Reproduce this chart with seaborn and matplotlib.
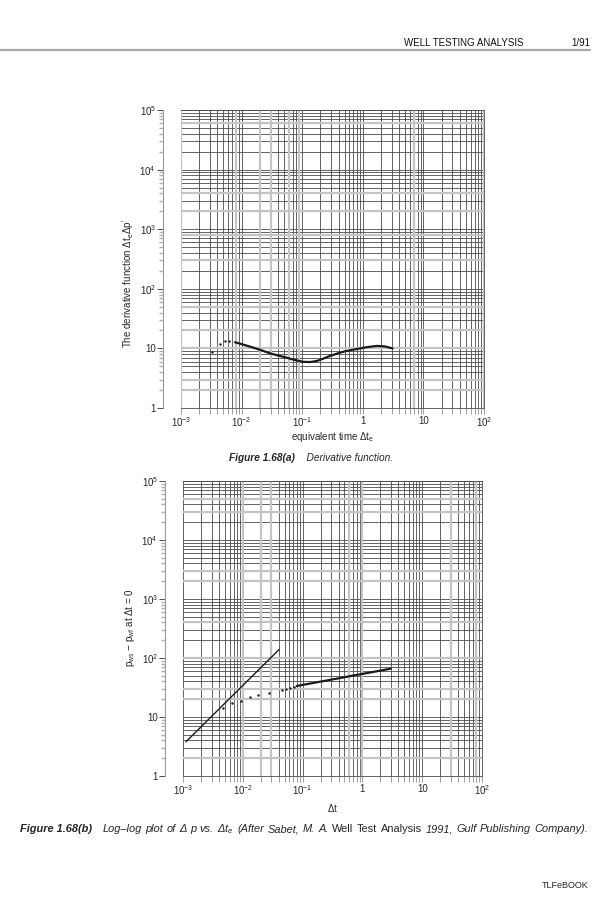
import numpy as np
import pandas as pd
import matplotlib
matplotlib.use("Agg")
import matplotlib.pyplot as plt
from matplotlib.lines import Line2D
from matplotlib.ticker import FixedLocator, LogLocator, NullFormatter
import seaborn as sns

# ---- data ----
# Figure 1.68(a): derivative function vs equivalent time
deriv_t_early = [3.3e-3, 4.4e-3, 5.3e-3, 6.3e-3]
deriv_early = [8.8, 11.9, 13.3, 13.5]
deriv_t = [7.8e-3, 1.0e-2, 1.56e-2, 2.2e-2, 2.9e-2, 4.0e-2, 5.5e-2, 7.5e-2, 0.104,
           0.135, 0.174, 0.22, 0.29, 0.38, 0.48, 0.65, 0.90, 1.25, 1.7, 2.3, 3.1]
deriv = [12.7, 11.8, 10.3, 9.2, 8.3, 7.6, 7.0, 6.4, 5.95,
         5.9, 6.15, 6.7, 7.5, 8.2, 8.8, 9.4, 10.0, 10.6, 11.0, 10.8, 10.0]

# Figure 1.68(b): pressure difference vs shut-in time
dp_t_early = [4.7e-3, 6.7e-3, 9.2e-3, 1.34e-2, 1.82e-2, 2.77e-2, 4.5e-2, 5.25e-2, 6.1e-2, 7.2e-2]
dp_early = [14.4, 17.1, 18.9, 21.6, 23.9, 25.8, 29.0, 30.2, 31.0, 31.9]
dp_t = [7.95e-2, 0.1, 0.2, 0.37, 0.7, 1.5, 2.97]
dp = [33.5, 35.0, 39.8, 44.6, 50.4, 57.9, 66.0]
unit_t = [1.12e-3, 4.07e-2]
unit_dp = [3.8, 140.0]

x_ticks = [1e-3, 1e-2, 1e-1, 1, 10, 100]
x_labels = ["$10^{-3}$", "$10^{-2}$", "$10^{-1}$", "1", "10", "$10^{2}$"]
y_ticks = [1, 10, 100, 1e3, 1e4, 1e5]
y_labels = ["1", "10", "$10^{2}$", "$10^{3}$", "$10^{4}$", "$10^{5}$"]

# light grey rules on the printed log paper
grey_v_a = [1e-3, 8e-3, 2e-2, 3e-2, 6e-2, 9e-2, 7, 100]
grey_h_a = [6e4, 4e3, 2e3, 8e2, 3e2, 5e1, 2e1, 10, 3, 2]
grey_v_b = [1e-2, 2e-2, 3e-2, 0.6, 1, 30, 80]
grey_h_b = [5e4, 3e4, 3e3, 2e3, 4e2, 1e2, 30, 20, 2]

sns.set_theme(style="white")
plt.rcParams["font.family"] = ["Liberation Sans", "DejaVu Sans"]
plt.rcParams["mathtext.default"] = "regular"

GRID = "#4a4a4a"
LGREY = "#c4c4c4"
FS = 7
CAP = 7.3
CAP_B = 7.9

fig = plt.figure(figsize=(6.04, 9.0), dpi=100)
W, H = 604.0, 900.0


def px_axes(l, t, r, b):
    return fig.add_axes([l / W, 1 - b / H, (r - l) / W, (b - t) / H])


def style_log_paper(ax, grey_v, grey_h):
    ax.spines["left"].set_position(("outward", 13))
    ax.set_xscale("log")
    ax.set_yscale("log")
    ax.set_xlim(1e-3, 1e2)
    ax.set_ylim(1, 1e5)
    ax.xaxis.set_major_locator(FixedLocator(x_ticks))
    ax.yaxis.set_major_locator(FixedLocator(y_ticks))
    ax.xaxis.set_minor_locator(LogLocator(base=10, subs=np.arange(2, 10), numticks=20))
    ax.yaxis.set_minor_locator(LogLocator(base=10, subs=np.arange(2, 10), numticks=20))
    ax.xaxis.set_minor_formatter(NullFormatter())
    ax.yaxis.set_minor_formatter(NullFormatter())
    ax.set_xticklabels(x_labels)
    ax.set_yticklabels(y_labels)
    ax.grid(which="both", color=GRID, linewidth=0.6)
    for v in grey_v:
        ax.axvline(v, color=LGREY, linewidth=1.6, zorder=1)
    for h in grey_h:
        ax.axhline(h, color=LGREY, linewidth=1.6, zorder=1)
    ax.spines["left"].set_color("#9a9a9a")
    ax.spines["left"].set_linewidth(0.8)
    for s in ["top", "right", "bottom"]:
        ax.spines[s].set_color(GRID)
        ax.spines[s].set_linewidth(0.6)
    ax.tick_params(which="major", axis="y", direction="out", length=4, width=0.6,
                   color="#333333", pad=1, left=True, labelsize=FS)
    ax.tick_params(which="minor", axis="y", direction="out", length=3, width=1.0,
                   color="#b0b0b0", left=True)
    ax.tick_params(which="both", axis="x", direction="out", length=4, width=0.7,
                   color="#a0a0a0", pad=1.5, bottom=True, labelsize=FS)
    ax.set_xlabel("")
    ax.set_ylabel("")


# ---- Figure 1.68(a) ----
ax1 = px_axes(181, 110, 484, 408)
df_a = pd.DataFrame({"t": deriv_t, "d": deriv})
df_a0 = pd.DataFrame({"t": deriv_t_early, "d": deriv_early})
sns.lineplot(data=df_a, x="t", y="d", ax=ax1, color="#1a1a1a", linewidth=1.6,
             sort=False, zorder=3)
sns.scatterplot(data=df_a0, x="t", y="d", ax=ax1, color="#1a1a1a", s=3,
                linewidth=0, zorder=3)
style_log_paper(ax1, grey_v_a, grey_h_a)

# ---- Figure 1.68(b) ----
ax2 = px_axes(183, 481, 482, 776)
df_b = pd.DataFrame({"t": dp_t, "d": dp})
df_b0 = pd.DataFrame({"t": dp_t_early, "d": dp_early})
df_u = pd.DataFrame({"t": unit_t, "d": unit_dp})
sns.lineplot(data=df_u, x="t", y="d", ax=ax2, color="#1a1a1a", linewidth=1.0,
             sort=False, zorder=3)
sns.lineplot(data=df_b, x="t", y="d", ax=ax2, color="#1a1a1a", linewidth=1.6,
             sort=False, zorder=3)
sns.scatterplot(data=df_b0, x="t", y="d", ax=ax2, color="#1a1a1a", s=3,
                linewidth=0, zorder=3)
style_log_paper(ax2, grey_v_b, grey_h_b)

# ---- page text ----
def fx(x):
    return x / W


def fy(y):
    return 1 - y / H


fig.text(fx(523), fy(46), "WELL TESTING ANALYSIS", ha="right", va="baseline",
         fontsize=7, color="#111111")
fig.text(fx(590), fy(46), "1/91", ha="right", va="baseline", fontsize=7,
         color="#111111")
fig.add_artist(Line2D([0, fx(590)], [fy(50), fy(50)], color="#a8a8a8",
                      linewidth=1.6, transform=fig.transFigure))

fig.text(fx(128), fy(283), "The derivative function $\\Delta t_e\\Delta p'$",
         rotation=90, ha="center", va="center", fontsize=FS)
fig.text(fx(333), fy(437), "equivalent time $\\Delta t_e$", ha="center",
         va="center", fontsize=FS)
fig.text(fx(130), fy(628), "p$_{ws}$ − p$_{wf}$ at $\\Delta$t = 0", rotation=90,
         ha="center", va="center", fontsize=FS)
fig.text(fx(333), fy(808), "$\\Delta$t", ha="center", va="center", fontsize=FS)
fig.text(fx(588), fy(886), "TLFeBOOK", ha="right", va="center", fontsize=6.5)

renderer = fig.canvas.get_renderer()


def text_run(x, y, parts, center=False):
    arts = []
    cur = x
    for s, kw in parts:
        t = fig.text(cur, y, s, va="center", fontsize=CAP, **kw)
        cur += t.get_window_extent(renderer).width / fig.bbox.width
        arts.append(t)
    if center:
        shift = (cur - x) / 2
        for t in arts:
            px, py = t.get_position()
            t.set_position((px - shift, py))


def justified_run(x0, x1, y, head, parts, head_gap, size):
    # head word, then words spread so that the line spans x0..x1 (pixels)
    t = fig.text(fx(x0), fy(y), head[0], va="center", fontsize=size, **head[1])
    start = x0 + t.get_window_extent(renderer).width + head_gap
    words = []
    for s, kw in parts:
        for w in s.split(" "):
            if w:
                tw = fig.text(0, fy(y), w, va="center", fontsize=size, **kw)
                words.append((tw, tw.get_window_extent(renderer).width))
    total = sum(wd for _, wd in words)
    gap = (x1 - start - total) / (len(words) - 1)
    cur = start
    for tw, wd in words:
        tw.set_x(fx(cur))
        cur += wd + gap


bi = dict(fontweight="bold", fontstyle="italic")
it = dict(fontstyle="italic")
rg = dict()
text_run(fx(311), fy(458), [("Figure 1.68(a)", bi), ("    Derivative function.", it)],
         center=True)
justified_run(20, 588, 829, ("Figure 1.68(b)", bi), [
    ("Log–log plot of Δ p vs. Δt$_e$ (After Sabet, M. A.", it),
    ("Well Test Analysis", rg),
    ("1991, Gulf Publishing Company).", it),
], head_gap=11, size=CAP_B)

fig.savefig("out.png", dpi=100)
